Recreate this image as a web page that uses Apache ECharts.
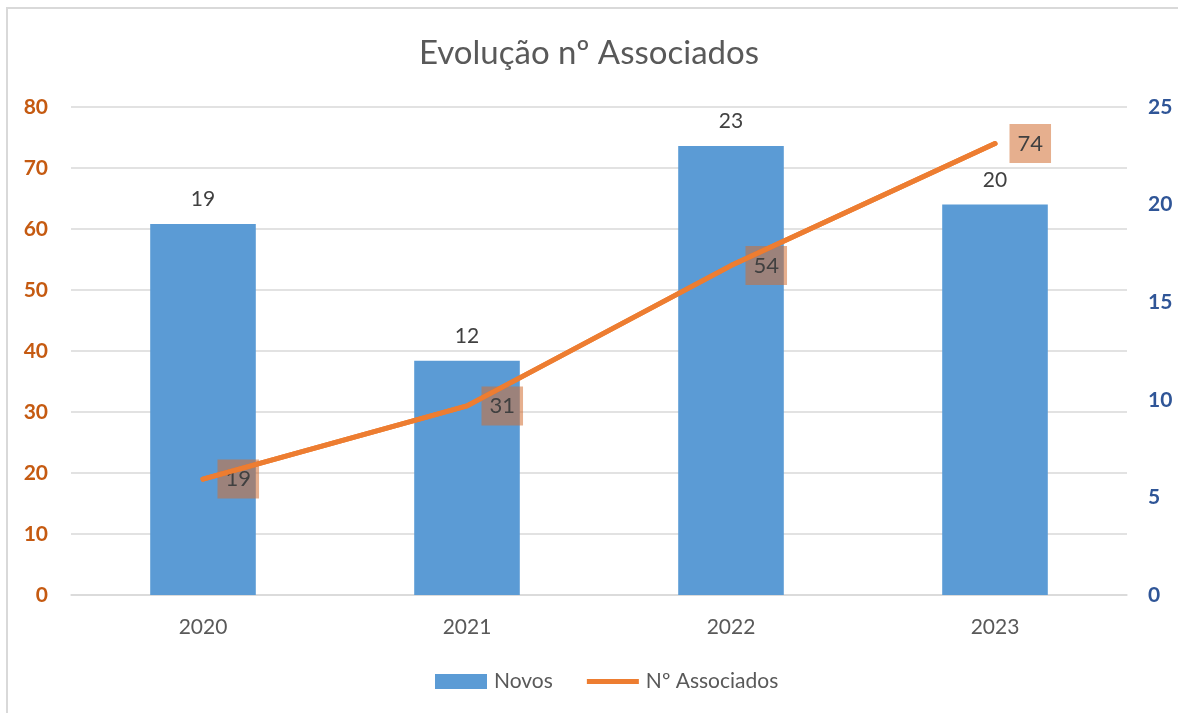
<!DOCTYPE html>
<html>
<head>
<meta charset="utf-8">
<script src="https://cdn.jsdelivr.net/npm/echarts@6/dist/echarts.min.js"></script>
<style>
html,body{margin:0;padding:0;background:#fff;}
#chart{width:1178px;height:713px;}
</style>
</head>
<body>
<div id="chart"></div>
<script>
const categories = ['2020', '2021', '2022', '2023'];
const novos = [19, 12, 23, 20];
const associados = [19, 31, 54, 74];
const leftTicks = {min: 0, max: 80, interval: 10};
const rightTicks = {min: 0, max: 25, interval: 5};

const FONT = 'Lato, "Open Sans", sans-serif';
const chart = echarts.init(document.getElementById('chart'));
chart.setOption({
  animation: false,
  backgroundColor: '#fff',
  textStyle: {fontFamily: FONT},
  graphic: [{
    type: 'rect', silent: true, z: -10,
    shape: {x: 7, y: 8, width: 1300, height: 900},
    style: {fill: 'none', stroke: '#d9d9d9', lineWidth: 2}
  }],
  title: {
    text: 'Evolução nº Associados',
    left: 'center', top: 32,
    textStyle: {fontFamily: FONT, fontSize: 33, fontWeight: 'normal', color: '#595959'}
  },
  legend: {
    bottom: 16, left: 430,
    itemGap: 34, itemWidth: 52, itemHeight: 15,
    textStyle: {fontFamily: FONT, fontSize: 21, color: '#595959', padding: [0, 0, 0, 2]},
    data: [
      {name: 'Novos', icon: 'rect'},
      {name: 'Nº Associados', icon: 'path://M0,0 L10,0 L10,1 L0,1 Z', itemStyle: {color: '#ed7d31'}}
    ]
  },
  grid: {left: 71, right: 51, top: 107, bottom: 118},
  xAxis: {
    type: 'category', data: categories,
    axisLine: {show: true, lineStyle: {color: '#d9d9d9', width: 1.5}},
    axisTick: {show: false},
    axisLabel: {fontFamily: FONT, fontSize: 21, color: '#595959', margin: 22}
  },
  yAxis: [{
    type: 'value', position: 'left',
    min: leftTicks.min, max: leftTicks.max, interval: leftTicks.interval,
    axisLine: {show: false}, axisTick: {show: false},
    splitLine: {lineStyle: {color: '#d9d9d9', width: 1.5}},
    axisLabel: {fontFamily: FONT, fontSize: 21, fontWeight: 'bold', color: '#c55a11', margin: 23}
  }, {
    type: 'value', position: 'right',
    min: rightTicks.min, max: rightTicks.max, interval: rightTicks.interval,
    axisLine: {show: false}, axisTick: {show: false},
    splitLine: {show: false},
    axisLabel: {fontFamily: FONT, fontSize: 21, fontWeight: 'bold', color: '#2f5597', margin: 21}
  }],
  series: [{
    name: 'Novos', type: 'bar', yAxisIndex: 1, data: novos,
    barWidth: '40%',
    itemStyle: {color: '#5b9bd5'},
    z: 1,
    label: {show: true, position: 'top', distance: 14, fontFamily: FONT, fontSize: 21, color: '#404040'}
  }, {
    name: 'Nº Associados', type: 'line', yAxisIndex: 0, data: associados,
    showSymbol: true, symbol: 'circle', symbolSize: 1,
    lineStyle: {color: '#ed7d31', width: 5, cap: 'round'},
    itemStyle: {color: '#ed7d31'},
    z: 2,
    label: {
      show: true, position: 'right', distance: 14,
      fontFamily: FONT, fontSize: 22, color: '#404040',
      backgroundColor: 'rgba(210,110,50,0.55)',
      padding: [9, 8, 8, 8]
    }
  }, {
    name: 'Nº Associados', type: 'line', yAxisIndex: 0, data: associados,
    showSymbol: false, symbol: 'none',
    lineStyle: {color: '#ed7d31', width: 5, cap: 'round'},
    itemStyle: {color: '#ed7d31'},
    z: 5, zlevel: 1,
    label: {show: false}
  }]
});
</script>
</body>
</html>
